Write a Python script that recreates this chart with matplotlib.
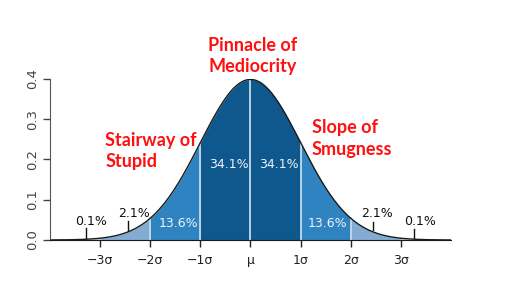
import numpy as np
import matplotlib
matplotlib.use('Agg')
import matplotlib.pyplot as plt

# normal curve, mean 0 and sd 1, x in units of sigma
mu = 0.0
sigma = 1.0
x_min, x_max = -4.0, 4.0

# band edges and their fill colours (outer -> inner -> outer)
band_edges = [-3, -2, -1, 0, 1, 2, 3]
band_colors = ['#83acd3', '#2f83c0', '#0e588e', '#0e588e', '#2f83c0', '#83acd3']

tick_pos = [-3, -2, -1, 0, 1, 2, 3]
tick_labels = ['\u22123\u03c3', '\u22122\u03c3', '\u22121\u03c3', '\u03bc', '1\u03c3', '2\u03c3', '3\u03c3']
yticks = [0.0, 0.1, 0.2, 0.3, 0.4]

# percent shares printed in each band
inner_pct = ['34.1%', '34.1%']
mid_pct = ['13.6%', '13.6%']
outer_pct = ['2.1%', '2.1%']
tail_pct = ['0.1%', '0.1%']

captions = ['Pinnacle of\nMediocrity', 'Stairway of\nStupid', 'Slope of\nSmugness']


def pdf(v):
    return np.exp(-0.5 * ((v - mu) / sigma) ** 2) / (sigma * np.sqrt(2 * np.pi))


fig = plt.figure(figsize=(5.08, 2.88), dpi=100, facecolor='white')
ax = fig.add_axes([0.0984, 0.1667, 0.7894, 0.559])

xs = np.linspace(x_min, x_max, 800)
ys = pdf(xs)

for i in range(len(band_edges) - 1):
    seg = np.linspace(band_edges[i], band_edges[i + 1], 200)
    ax.fill_between(seg, 0, pdf(seg), color=band_colors[i], lw=0)
# thin tails beyond 3 sigma
for a, b in [(x_min, -3), (3, x_max)]:
    seg = np.linspace(a, b, 100)
    ax.fill_between(seg, 0, pdf(seg), color='#b9cfe4', lw=0)

# light separators at each sigma
for e in [-2, -1, 0, 1, 2]:
    ax.plot([e, e], [0, pdf(e)], color='#c4dbea', lw=1.3)

ax.plot(xs, ys, color='#1a1a1a', lw=1.0)

# percentages inside the bands
in_kw = dict(color='#eef4fa', fontsize=9, ha='center', va='center')
ax.text(-0.43, 0.187, inner_pct[0], **in_kw)
ax.text(0.56, 0.187, inner_pct[1], **in_kw)
ax.text(-1.44, 0.04, mid_pct[0], **in_kw)
ax.text(1.54, 0.04, mid_pct[1], **in_kw)

# outside labels with little pointer marks
out_kw = dict(color='#111111', fontsize=9, ha='center', va='center')
ax.text(-2.32, 0.067, outer_pct[0], **out_kw)
ax.plot([-2.44, -2.44], [0.025, 0.046], color='#111111', lw=1)
ax.text(2.52, 0.067, outer_pct[1], **out_kw)
ax.plot([2.44, 2.44], [0.025, 0.045], color='#111111', lw=1)
ax.text(-3.18, 0.047, tail_pct[0], **out_kw)
ax.plot([-3.28, -3.28], [0.004, 0.029], color='#111111', lw=1)
ax.text(3.38, 0.045, tail_pct[1], **out_kw)
ax.plot([3.26, 3.26], [0.004, 0.027], color='#111111', lw=1)

# red captions
cap_kw = dict(color='#ff1010', fontsize=13, fontweight='bold', family='Lato',
              va='center', linespacing=1.3, clip_on=False)
ax.text(0.04, 0.457, captions[0], ha='center', **cap_kw)
ax.text(-2.9, 0.222, captions[1], ha='left', **cap_kw)
ax.text(1.22, 0.252, captions[2], ha='left', **cap_kw)

ax.set_xlim(x_min, x_max)
ax.set_ylim(0, 0.4)
ax.set_xticks(tick_pos)
ax.set_xticklabels(tick_labels, fontsize=9)
ax.set_yticks(yticks)
ax.set_yticklabels(['%.1f' % t for t in yticks], fontsize=9.5, rotation=90, va='center')
ax.tick_params(axis='x', length=5, width=1, colors='#222222', pad=5)
ax.tick_params(axis='y', length=5, width=1, colors='#444444', pad=3)

for s in ['top', 'right']:
    ax.spines[s].set_visible(False)
ax.spines['left'].set_color('#555555')
ax.spines['bottom'].set_color('#1a1a1a')
ax.spines['left'].set_bounds(0, 0.4)

fig.savefig('out.png', dpi=100, facecolor='white')
